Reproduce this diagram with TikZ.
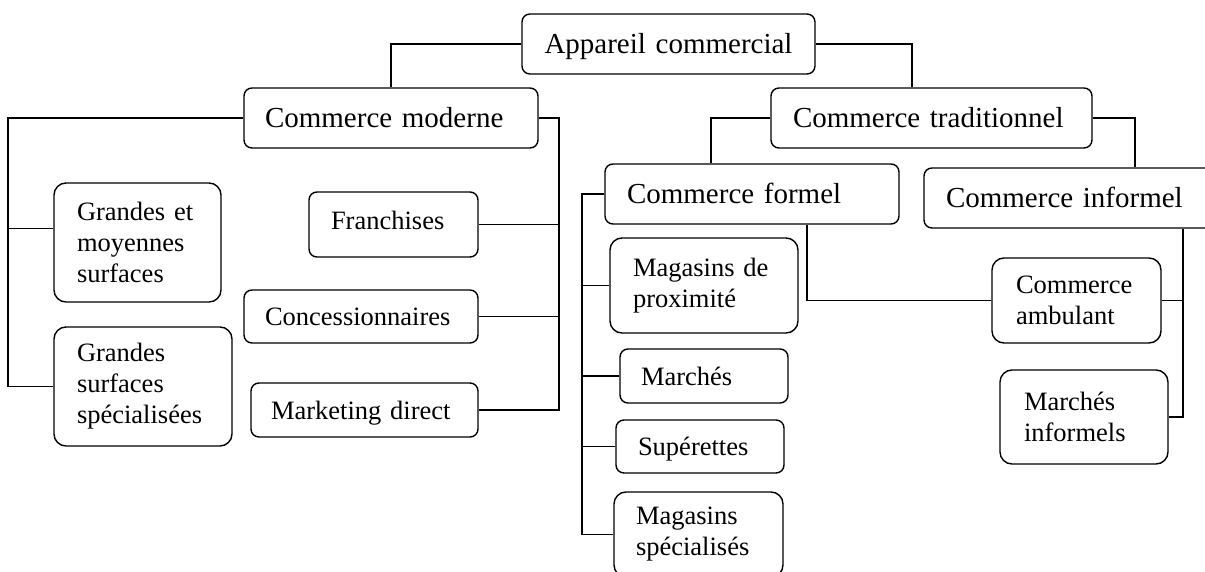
\documentclass[tikz,border=0pt]{standalone}
\usepackage{fontspec}
\setmainfont{Liberation Serif}
\begin{document}
\begin{tikzpicture}[x=1pt,y=-1pt,
  bx/.style={draw, line width=1.4pt, rounded corners=8pt, inner ysep=0pt, align=left, anchor=center},
  big/.style={bx, font=\fontsize{29}{33}\selectfont, text height=20pt, text depth=0pt, minimum height=60pt},
  sm/.style={bx, font=\fontsize{26.5}{31}\selectfont, text height=18.3pt, text depth=0pt},
  smm/.style={bx, rounded corners=12pt, font=\fontsize{26.5}{31}\selectfont},
  ln/.style={line width=1.4pt}]
\useasboundingbox (0,0) rectangle (1205,572);
\fill[white] (0,0) rectangle (1205,572);
\clip (0,0) rectangle (1205,572);

% top level
\node[big, align=center, minimum width=293pt, inner xsep=21pt, text width=251pt] (app) at (668.5,44) {Appareil commercial};
\node[big, minimum width=294pt, inner xsep=21pt, text width=252pt] (mod) at (391,118) {Commerce moderne};
\node[big, minimum width=321pt, inner xsep=22pt, text width=277pt] (trad) at (931.5,118) {Commerce traditionnel};
\node[big, minimum width=294pt, inner xsep=22pt, text width=250pt] (form) at (752,194) {Commerce formel};
\node[big, minimum width=291pt, inner xsep=22pt, text width=247pt] (inf) at (1069.5,198) {Commerce informel};

% commerce moderne children
\node[smm, minimum width=167pt, minimum height=119pt, inner xsep=23pt, text width=121pt] (gms) at (137.5,242.5) {Grandes et\\moyennes\\surfaces};
\node[smm, minimum width=178pt, minimum height=119pt, inner xsep=23pt, text width=132pt] (gss) at (143,386.5) {Grandes\\surfaces\\spécialisées};
\node[sm, text depth=8pt, minimum width=169pt, minimum height=65pt, inner xsep=22pt, text width=125pt] (fra) at (393.5,224.5) {Franchises};
\node[sm, minimum width=234pt, minimum height=53pt, inner xsep=21pt, text width=192pt] (con) at (361,316.5) {Concessionnaires};
\node[sm, minimum width=227pt, minimum height=54pt, inner xsep=20pt, text width=187pt] (mkt) at (364.5,410) {Marketing direct};

% commerce formel children
\node[smm, minimum width=188pt, minimum height=95pt, inner xsep=23pt, text width=142pt] (prox) at (704,285.5) {Magasins de\\proximité};
\node[sm, minimum width=168pt, minimum height=54pt, inner xsep=21pt, text width=126pt] (mar) at (704,376) {Marchés};
\node[sm, minimum width=168pt, minimum height=53pt, inner xsep=22pt, text width=124pt] (sup) at (700,446.5) {Supérettes};
\node[smm, minimum width=169pt, minimum height=85pt, inner xsep=22pt, text width=125pt] (msp) at (698.5,534.5) {Magasins\\spécialisés};

% commerce informel children
\node[smm, minimum width=169pt, minimum height=85pt, inner xsep=24pt, text width=121pt] (amb) at (1076.5,300.5) {Commerce\\ambulant};
\node[smm, minimum width=168pt, minimum height=94pt, inner xsep=24pt, text width=120pt] (minf) at (1084,417) {Marchés\\informels};

% bus coordinates
\coordinate (bL) at (8,0);
\coordinate (bM) at (559,0);
\coordinate (bF) at (582,0);
\coordinate (bI) at (1183,0);
\coordinate (jT) at (912,0);
\coordinate (jF) at (711,0);
\coordinate (jI) at (1135,0);
\coordinate (jB) at (807,0);
\path ([yshift=14pt]gms.west) coordinate (g1);

% connectors
\draw[ln] (app.west) -| (mod.north);
\draw[ln] (app.east) -| (jT |- trad.north);
\draw[ln] (trad.west) -| (jF |- form.north);
\draw[ln] (trad.east) -| (jI |- inf.north);

\draw[ln] (mod.west) -| (bL |- gss.west) -- (gss.west);
\draw[ln] (g1) -- (g1 -| bL);
\draw[ln] (mod.east) -| (bM |- mkt.east) -- (mkt.east);
\draw[ln] (fra.east) -- (fra.east -| bM);
\draw[ln] (con.east) -- (con.east -| bM);

\draw[ln] (form.west) -| (bF |- msp.west) -- (msp.west);
\draw[ln] (prox.west) -- (prox.west -| bF);
\draw[ln] (mar.west) -- (mar.west -| bF);
\draw[ln] (sup.west) -- (sup.west -| bF);

\draw[ln] (jB |- form.south) |- (amb.west);
\draw[ln] (bI |- inf.south) |- (minf.east);
\draw[ln] (amb.east) -- (amb.east -| bI);
\end{tikzpicture}
\end{document}
